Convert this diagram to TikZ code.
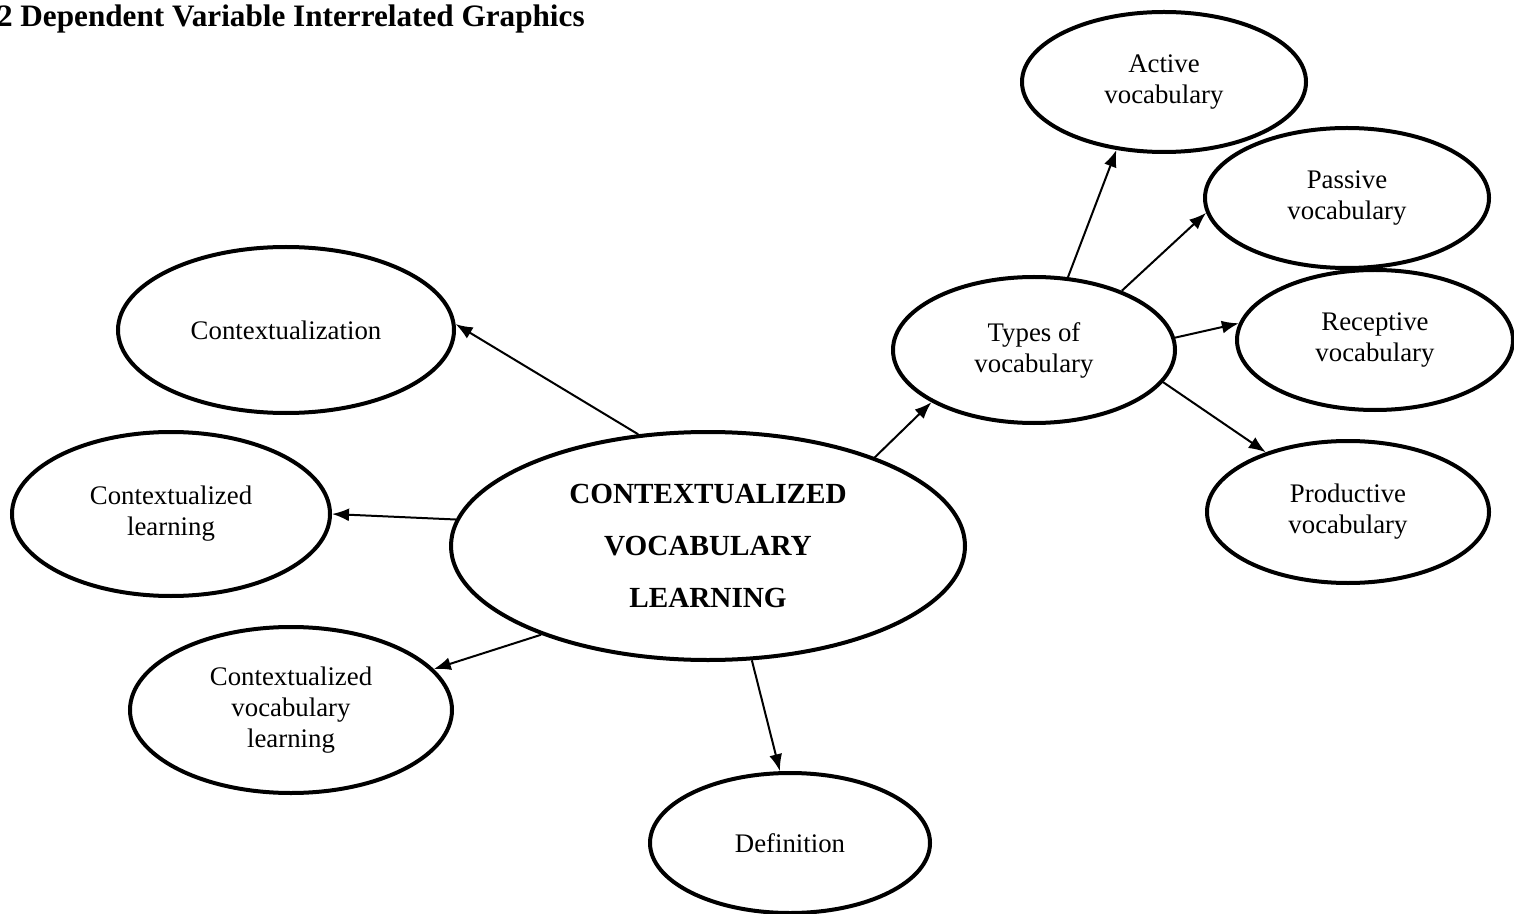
\documentclass[tikz,border=0pt]{standalone}
\usepackage{fontspec}
\setmainfont{Liberation Serif}
\usetikzlibrary{arrows.meta,shapes.geometric}

\begin{document}
\begin{tikzpicture}[
    x=0.5pt, y=-0.5pt,
    >={Latex[length=8.5pt,width=6.5pt]},
    bubble/.style={
        draw,
        ellipse,
        line width=2pt,
        inner sep=0pt,
        align=center,
        font=\fontsize{13.4}{15.5}\selectfont
    },
    mainbubble/.style={
        bubble,
        font=\fontsize{14.6}{26}\selectfont\bfseries
    },
    link/.style={
        ->,
        line width=1pt
    }
]
\useasboundingbox (0,0) rectangle (1514,914);

% =====================
% TITOLO
% =====================
\node[anchor=west, font=\fontsize{15.6}{18}\selectfont\bfseries] (title) at (-10,19)
    {2 Dependent Variable Interrelated Graphics};

% =====================
% NODI
% =====================
\node[mainbubble, minimum width=257pt, minimum height=114pt] (main) at (708,546)
    {CONTEXTUALIZED\\VOCABULARY\\LEARNING};

\node[bubble, minimum width=168pt, minimum height=83pt] (ctxz) at (286,330) {Contextualization};
\node[bubble, minimum width=159pt, minimum height=82pt] (ctxl) at (171,514) {Contextualized\\learning};
\node[bubble, minimum width=161pt, minimum height=83pt] (cvl) at (291,710) {Contextualized\\vocabulary\\learning};
\node[bubble, minimum width=140pt, minimum height=70pt] (def) at (790,843) {Definition};

\node[bubble, minimum width=141pt, minimum height=73pt] (types) at (1034,350) {Types of\\vocabulary};
\node[bubble, minimum width=142pt, minimum height=70pt] (act) at (1164,82) {Active\\vocabulary};
\node[bubble, minimum width=142pt, minimum height=70pt] (pas) at (1347,198) {Passive\\vocabulary};
\node[bubble, minimum width=138pt, minimum height=70pt] (rec) at (1375,340) {Receptive\\vocabulary};
\node[bubble, minimum width=141pt, minimum height=71pt] (prod) at (1348,512) {Productive\\vocabulary};

% =====================
% FRECCE
% =====================
\draw[link] (main.122) -- (ctxz.2);
\draw[link] (main.174) -- (ctxl.0);
\draw[link] (main.208) -- (cvl.16);
\draw[link] (main.291) -- (def.98);
\draw[link] (main.28) -- (types.207);

% tipi di vocabolario
\draw[link] (types.65) -- (act.235);
\draw[link] (types.34) -- (pas.186);
\draw[link] (types.5) -- (rec.173);
\draw[link] (types.346) -- (prod.144);

\end{tikzpicture}
\end{document}
